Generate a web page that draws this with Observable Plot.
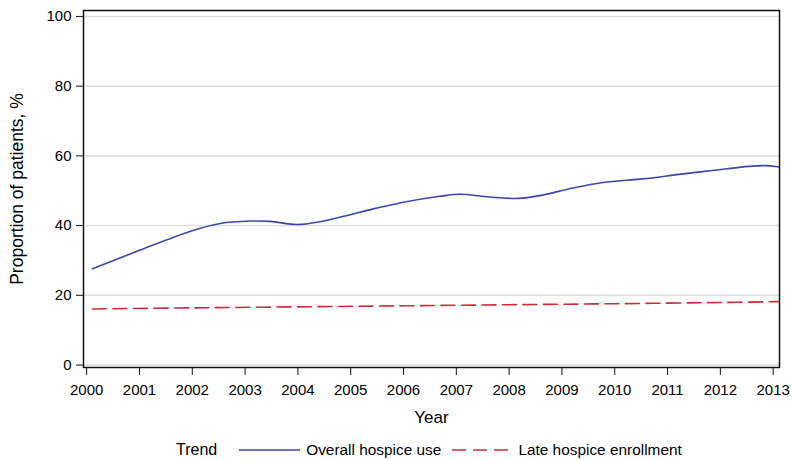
<!DOCTYPE html>
<html>
<head>
<meta charset="utf-8">
<script src="https://cdn.jsdelivr.net/npm/d3@7"></script>
<script src="https://cdn.jsdelivr.net/npm/@observablehq/plot@0.6"></script>
<style>
  html, body { margin: 0; padding: 0; background: #fff; }
  body { font-family: "Liberation Sans", Arial, sans-serif; color: #000; width: 792px; }
  #legend { height: 36px; display: flex; align-items: center; justify-content: flex-start; padding-left: 176px; font-size: 15.4px; white-space: nowrap; box-sizing: border-box; }
  #legend span.title { font-size: 16px; }
  #legend svg { display: block; }
</style>
</head>
<body>
<div id="chart"></div>
<div id="legend"></div>
<script>
// ---- Data ----
const overallYears  = [2000.11, 2001.0, 2001.97, 2002.53, 2003.10, 2003.48, 2003.98, 2004.42, 2004.93, 2005.43, 2006.0, 2006.69, 2007.06, 2007.63, 2008.17, 2008.58, 2009.21, 2009.84, 2010.53, 2011.22, 2011.85, 2012.54, 2012.86, 2013.08, 2013.12];
const overallValues = [27.6, 32.9, 38.4, 40.6, 41.3, 41.2, 40.3, 41.1, 42.9, 44.8, 46.7, 48.4, 49.0, 48.2, 47.8, 48.6, 50.8, 52.5, 53.4, 54.7, 55.8, 57.0, 57.2, 56.9, 56.8];
const lateYears  = [2000.11, 2002, 2004, 2006, 2008, 2010, 2012, 2013.12];
const lateValues = [16.1, 16.4, 16.7, 17.0, 17.3, 17.6, 17.95, 18.2];
const xTicks = [2000, 2001, 2002, 2003, 2004, 2005, 2006, 2007, 2008, 2009, 2010, 2011, 2012, 2013];
const yTicks = [0, 20, 40, 60, 80, 100];
const seriesNames = ["Overall hospice use", "Late hospice enrollment"];
const seriesColors = ["#3c46aa", "#c92c3a"];
const legendTitle = "Trend";
const xLabel = "Year";
const yLabel = "Proportion of patients, %";

const overall = overallYears.map((x, i) => ({x, y: overallValues[i]}));
const late = lateYears.map((x, i) => ({x, y: lateValues[i]}));

const chart = Plot.plot({
  width: 792,
  height: 432,
  marginLeft: 83,
  marginRight: 13,
  marginTop: 10,
  marginBottom: 65,
  style: { fontFamily: '"Liberation Sans", Arial, sans-serif', fontSize: "15px", color: "#000", background: "#fff", overflow: "visible" },
  x: { domain: [1999.94, 2013.12], label: null },
  y: { domain: [-0.7, 101.7], label: null },
  marks: [
    Plot.gridY(yTicks, { stroke: "#dedede", strokeOpacity: 1, strokeWidth: 1.5 }),
    Plot.line(overall, { x: "x", y: "y", stroke: seriesColors[0], strokeWidth: 1.6, curve: "catmull-rom", clip: true }),
    Plot.line(late, { x: "x", y: "y", stroke: seriesColors[1], strokeWidth: 1.6, strokeDasharray: "14,6.5", curve: "catmull-rom", clip: true }),
    Plot.frame({ stroke: "#111", strokeWidth: 1.5 }),
    Plot.axisX(xTicks, { tickSize: 8, tickPadding: 9, tickFormat: d => String(d), label: null, stroke: "#111" }),
    Plot.axisY(yTicks, { tickSize: 7, tickPadding: 5, label: null, stroke: "#111" }),
    Plot.text([yLabel], { text: d => d, frameAnchor: "left", textAnchor: "middle", rotate: -90, dx: -66, fontSize: 17.5, lineAnchor: "middle" }),
    Plot.text([xLabel], { text: d => d, frameAnchor: "bottom", textAnchor: "middle", dy: 50, fontSize: 17, lineAnchor: "middle" })
  ]
});
document.getElementById("chart").appendChild(chart);

// ---- Legend ----
const legend = d3.select("#legend");
legend.append("span").attr("class", "title").text(legendTitle);
const sw1 = legend.append("svg").attr("width", 61).attr("height", 10).style("margin-left", "22px");
sw1.append("line").attr("x1", 0).attr("x2", 61).attr("y1", 5).attr("y2", 5)
  .attr("stroke", seriesColors[0]).attr("stroke-width", 1.6);
legend.append("span").style("margin-left", "6px").text(seriesNames[0]);
const sw2 = legend.append("svg").attr("width", 56).attr("height", 10).style("margin-left", "11px");
sw2.append("line").attr("x1", 0).attr("x2", 56).attr("y1", 5).attr("y2", 5)
  .attr("stroke", seriesColors[1]).attr("stroke-width", 1.6).attr("stroke-dasharray", "14,7");
legend.append("span").style("margin-left", "10px").text(seriesNames[1]);
</script>
</body>
</html>
